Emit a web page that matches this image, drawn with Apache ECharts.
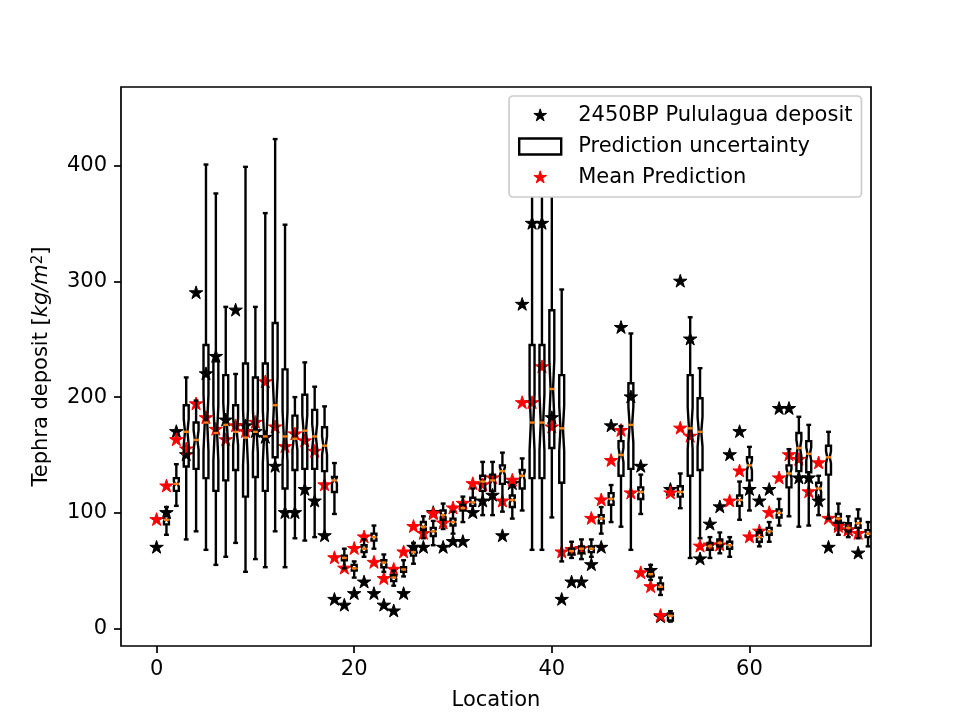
<!DOCTYPE html>
<html lang="en" style="height: 100%">
<head>
  <meta charset="utf-8">
</head>
<body style="height: 100%; margin: 0; background: #fff">
  <div id="container" style="width: 968px; height: 726px"></div>

  <script type="text/javascript" src="https://cdn.jsdelivr.net/npm/echarts@6/dist/echarts.min.js"></script>
  <script type="text/javascript">
// observed deposit, x = 0..71
var observed = [70, 100, 170, 150, 290, 220, 235, 180, 275, 175, 170, 165, 140, 100, 100, 120, 110, 80,
  25, 20, 30, 40, 30, 20, 15, 30, 70, 70, 100, 70, 75, 75, 100, 110, 115, 80, 125, 280,
  350, 350, 182, 25, 40, 40, 55, 70, 175, 260, 200, 140, 50, 10, 120, 300, 250, 60,
  90, 105, 150, 170, 120, 110, 120, 190, 190, 130, 130, 110, 70, 90, 85, 65];
// mean prediction, x = 0..71
var meanPred = [94, 123, 163, 155, 194, 182, 172, 163, 175, 170, 178, 213, 174, 157, 168, 162, 153, 124,
  61, 52, 69, 79, 57, 43, 51, 66, 88, 82, 99, 91, 104, 108, 125, 124, 130, 110, 128, 195,
  195, 226, 174, 66, 68, 69, 95, 111, 145, 171, 117, 48, 36, 11, 117, 173, 166, 71,
  72, 72, 110, 136, 79, 84, 100, 130, 150, 146, 118, 143, 95, 88, 85, 82];
// box statistics, boxes sit at x = 1..72
var whiskerLow = [81, 106, 77, 84, 68, 55, 62, 74, 49, 60, 53, 84, 53, 78, 76, 79, 81, 99,
  52, 44, 62, 69, 49, 37, 45, 56, 78, 72, 86, 82, 92, 98, 98, 98, 101, 95, 102, 68,
  68, 96, 58, 61, 60, 62, 82, 92, 88, 68, 99, 42, 29, 6, 104, 61, 78, 61,
  65, 62, 94, 102, 71, 75, 89, 97, 88, 89, 98, 95, 81, 79, 78, 71];
var boxQ1 = [90, 119, 140, 138, 130, 119, 128, 137, 114, 131, 119, 148, 121, 137, 138, 138, 136, 118,
  59, 50, 66, 76, 53, 41, 49, 63, 85, 80, 94, 89, 102, 106, 119, 119, 125, 105, 121, 130,
  130, 156, 126, 64, 65, 66, 91, 107, 132, 138, 112, 45, 34, 7, 114, 132, 137, 68,
  71, 69, 106, 128, 75, 81, 96, 122, 136, 135, 113, 133, 92, 84, 87, 79];
var boxMedian = [94, 125, 170, 163, 178, 169, 176, 170, 165, 170, 166, 193, 166, 164, 171, 166, 158, 128,
  61, 52, 69, 79, 57, 44, 51, 66, 88, 84, 98, 92, 104, 109, 127, 128, 136, 111, 132, 178,
  178, 207, 173, 67, 69, 69, 95, 112, 150, 176, 118, 47, 36, 11, 118, 173, 170, 71,
  74, 72, 111, 141, 79, 84, 100, 134, 156, 151, 121, 148, 95, 87, 91, 82];
var boxQ3 = [97, 130, 193, 178, 245, 231, 219, 193, 229, 217, 229, 264, 224, 184, 202, 189, 174, 131,
  63, 55, 72, 82, 59, 46, 53, 69, 92, 87, 102, 95, 107, 113, 132, 133, 141, 115, 137, 245,
  245, 275, 219, 69, 71, 71, 98, 117, 162, 212, 122, 50, 39, 13, 123, 219, 199, 74,
  77, 75, 115, 148, 83, 87, 103, 141, 169, 162, 126, 158, 99, 91, 95, 85];
var whiskerHigh = [105, 142, 217, 197, 401, 376, 278, 220, 399, 278, 359, 423, 349, 200, 230, 209, 192, 143,
  69, 58, 77, 89, 64, 50, 59, 74, 97, 93, 108, 101, 114, 121, 144, 144, 152, 124, 147, 430,
  430, 440, 293, 75, 77, 77, 105, 124, 175, 255, 133, 55, 44, 15, 134, 269, 225, 79,
  83, 79, 127, 157, 85, 92, 112, 155, 183, 176, 132, 170, 108, 97, 103, 92];

var xTicks = [0, 20, 40, 60];
var yTicks = [0, 100, 200, 300, 400];

var NAME_OBS = '2450BP Pululagua deposit';
var NAME_BOX = 'Prediction uncertainty';
var NAME_MEAN = 'Mean Prediction';

// the two empty subpaths square up the bounding box so the star stays centred on its point
var STAR = 'path://M-120,-120L-120,-120M120,120L120,120M0,-100L22.45,-30.9L95.1,-30.9L36.33,11.8L58.78,80.9L0,38.2L-58.78,80.9L-36.33,11.8L-95.1,-30.9L-22.45,-30.9Z';
var FONT = '"DejaVu Sans"';
var LW = 2.4;

function indexed(arr, start) {
  return arr.map(function (v, i) { return [i + start, v]; });
}

var boxData = boxMedian.map(function (m, i) {
  return [i + 1, whiskerLow[i], boxQ1[i], m, boxQ3[i], whiskerHigh[i]];
});

// notched box, same shape as matplotlib's notch=True
function renderBox(params, api) {
  var x = api.value(0);
  var lo = api.value(1), q1 = api.value(2), med = api.value(3), q3 = api.value(4), hi = api.value(5);
  var conf = (q3 - q1) * 0.21;
  var pt = function (dx, v) { return api.coord([x + dx, v]); };
  var line = function (a, b, color, cap) {
    return {
      type: 'line',
      shape: { x1: a[0], y1: a[1], x2: b[0], y2: b[1] },
      style: { stroke: color || '#000', lineWidth: LW, lineCap: cap || 'butt' }
    };
  };
  return {
    type: 'group',
    children: [
      line(pt(0, lo), pt(0, q1)),
      line(pt(0, q3), pt(0, hi)),
      line(pt(-0.125, lo), pt(0.125, lo), '#000', 'square'),
      line(pt(-0.125, hi), pt(0.125, hi), '#000', 'square'),
      {
        type: 'polygon',
        shape: {
          points: [
            pt(-0.25, q1), pt(0.25, q1), pt(0.25, med - conf), pt(0.125, med), pt(0.25, med + conf),
            pt(0.25, q3), pt(-0.25, q3), pt(-0.25, med + conf), pt(-0.125, med), pt(-0.25, med - conf)
          ]
        },
        style: { fill: 'none', stroke: '#000', lineWidth: LW, lineJoin: 'miter' }
      },
      line(pt(-0.125, med), pt(0.125, med), '#ff7f0e', 'square')
    ]
  };
}

var dom = document.getElementById('container');
var myChart = echarts.init(dom, null, { renderer: 'canvas' });

var option = {
  animation: false,
  backgroundColor: '#fff',
  textStyle: { fontFamily: FONT },
  grid: {
    left: 121, right: 97, top: 87, bottom: 80,
    show: true, borderColor: '#000', borderWidth: 1.7, backgroundColor: 'transparent'
  },
  legend: {
    orient: 'vertical',
    left: 509, top: 96,
    z: 20,
    padding: [9, 9, 9, 9],
    itemWidth: 42, itemHeight: 16, itemGap: 10,
    backgroundColor: '#fff',
    borderColor: '#ccc', borderWidth: 1.7, borderRadius: 4,
    selectedMode: false,
    textStyle: { fontFamily: FONT, fontSize: 21, color: '#000', padding: [0, 0, 0, 12] },
    data: [
      { name: NAME_OBS, icon: STAR, itemStyle: { color: '#000', borderColor: '#000', borderWidth: 1 } },
      { name: NAME_BOX, icon: 'rect', itemStyle: { color: 'transparent', borderColor: '#000', borderWidth: LW } },
      { name: NAME_MEAN, icon: STAR, itemStyle: { color: '#f00', borderColor: '#f00', borderWidth: 1 } }
    ]
  },
  xAxis: {
    type: 'value', min: -3.6, max: 72.3,
    name: 'Location', nameLocation: 'middle', nameGap: 44,
    nameTextStyle: { fontFamily: FONT, fontSize: 21, color: '#000' },
    splitLine: { show: false },
    axisLine: { show: false, onZero: false },
    axisTick: { show: true, customValues: xTicks, length: 7, lineStyle: { color: '#000', width: 1.7 } },
    axisLabel: { customValues: xTicks, margin: 13, fontFamily: FONT, fontSize: 21, color: '#000' }
  },
  yAxis: {
    type: 'value', min: -15.1, max: 468,
    name: 'Tephra deposit [{i|kg/m}{s|2}]', nameLocation: 'middle', nameGap: 69, nameRotate: 90,
    nameTextStyle: {
      fontFamily: FONT, fontSize: 21, color: '#000',
      rich: {
        i: { fontFamily: FONT, fontSize: 21, fontStyle: 'italic', color: '#000' },
        s: { fontFamily: FONT, fontSize: 15, color: '#000', verticalAlign: 'top' }
      }
    },
    splitLine: { show: false },
    axisLine: { show: false, onZero: false },
    axisTick: { show: true, customValues: yTicks, length: 7, lineStyle: { color: '#000', width: 1.7 } },
    axisLabel: { customValues: yTicks, margin: 14, padding: [4, 0, 0, 0], fontFamily: FONT, fontSize: 21, color: '#000' }
  },
  series: [
    {
      name: NAME_OBS, type: 'scatter', z: 2,
      symbol: STAR, symbolSize: 17,
      itemStyle: { color: '#000', borderColor: '#000', borderWidth: 1, opacity: 1 },
      data: indexed(observed, 0)
    },
    {
      name: NAME_MEAN, type: 'scatter', z: 3,
      symbol: STAR, symbolSize: 17,
      itemStyle: { color: '#f00', borderColor: '#f00', borderWidth: 1, opacity: 1 },
      data: indexed(meanPred, 0)
    },
    {
      name: NAME_BOX, type: 'custom', z: 4,
      renderItem: renderBox,
      encode: { x: 0, y: [1, 2, 3, 4, 5] },
      clip: true,
      silent: true,
      data: boxData
    }
  ]
};

myChart.setOption(option);
window.addEventListener('resize', myChart.resize);
  </script>
</body>
</html>
